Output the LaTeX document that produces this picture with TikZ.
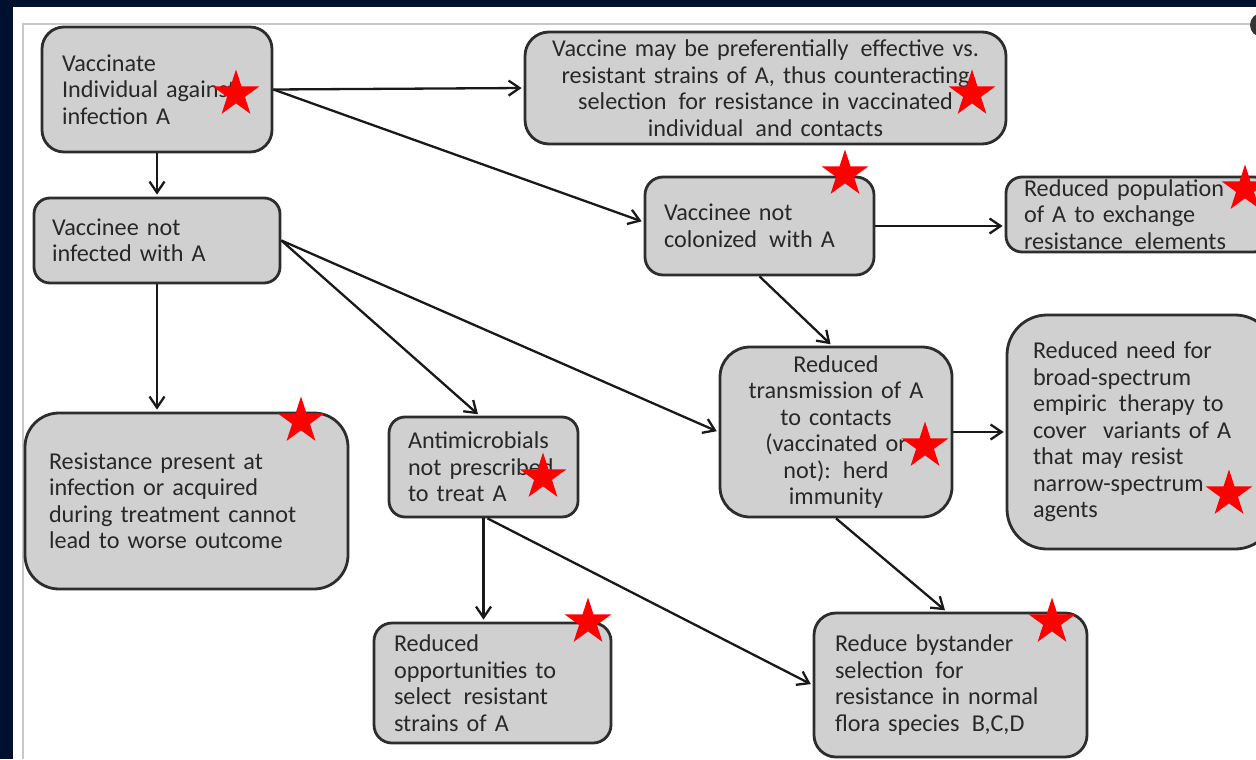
\documentclass[tikz,border=0pt]{standalone}
\usepackage{fontspec}
\setmainfont{Carlito}
\usetikzlibrary{arrows.meta,shapes.geometric}
\definecolor{navy}{RGB}{0,17,48}
\definecolor{boxfill}{RGB}{208,208,208}
\definecolor{boxline}{RGB}{45,45,45}
\definecolor{txt}{RGB}{40,40,40}
\definecolor{framegray}{RGB}{200,200,200}
\tikzset{
  box/.style={draw=boxline, line width=1.4pt, fill=boxfill, text=txt,
    inner ysep=0pt, font=\fontsize{12.1}{13.25}\selectfont},
  lbox/.style={box, align=left},
  cbox/.style={box, align=center},
  conn/.style={draw=black!90, line width=1.15pt, shorten >=1pt,
    -{Straight Barb[length=5.5pt,width=7.5pt,line width=1.15pt]}},
  redstar/.style={star, star points=5, star point ratio=2.618, fill=red, draw=none,
    minimum size=24.5pt, inner sep=0pt}
}
\begin{document}
\begin{tikzpicture}[x=0.5pt,y=-0.5pt]
\useasboundingbox (0,0) rectangle (1256,759);
\fill[navy] (0,0) rectangle (1256,759);
\fill[white] (13,7) rectangle (1256,759);
\draw[framegray, line width=1pt] (23,759) -- (23,24) -- (1256,24);
\fill[black!80] (1262,25) circle (6pt);

% boxes
\node[lbox, minimum width=115pt, minimum height=62.5pt, text width=95pt, inner xsep=10pt, rounded corners=11pt]
  (vacc) at (157,89.5) {Vaccinate\\Individual against\\infection A};
\node[cbox, minimum width=240.5pt, minimum height=56pt, text width=230.5pt, inner xsep=5pt, rounded corners=12pt]
  (eff) at (765.5,88) {Vaccine may be preferentially\, effective vs.\\resistant strains of A, thus counteracting\\selection\, for resistance in vaccinated\\individual\, and contacts};
\node[lbox, minimum width=123pt, minimum height=42.5pt, text width=105pt, inner xsep=9pt, rounded corners=8pt]
  (notinf) at (157,240.5) {Vaccinee not\\infected with A};
\node[lbox, minimum width=114.5pt, minimum height=49pt, text width=95.5pt, inner xsep=9.5pt, rounded corners=9pt]
  (notcol) at (759.5,226) {Vaccinee not\\colonized\, with A};
\node[lbox, minimum width=132pt, minimum height=37.5pt, text width=114pt, inner xsep=9pt, rounded corners=8pt]
  (pop) at (1138,214.5) {Reduced population\\of A to exchange\\resistance\, elements};
\node[cbox, minimum width=116pt, minimum height=85pt, text width=106pt, inner xsep=5pt, rounded corners=15pt]
  (trans) at (836,432) {Reduced\\transmission of A\\to contacts\\(vaccinated or\\not): herd\\immunity};
\node[lbox, minimum width=134pt, minimum height=117pt, text width=108pt, inner xsep=13pt, rounded corners=20pt]
  (need) at (1141,432) {Reduced need for\\broad-spectrum\\empiric\, therapy to\\cover\,\, variants of A\\that may resist\\narrow-spectrum\\agents};
\node[lbox, minimum width=161.5pt, minimum height=88pt, text width=137.5pt, inner xsep=12pt, rounded corners=17pt]
  (outc) at (186.5,501) {Resistance present at\\infection or acquired\\during~treatment~cannot\\lead to worse outcome};
\node[lbox, minimum width=94.5pt, minimum height=50pt, text width=75.5pt, inner xsep=9.5pt, rounded corners=8pt]
  (nopres) at (483.5,467) {Antimicrobials\\not~prescribed\\to treat A};
\node[lbox, minimum width=118.5pt, minimum height=60pt, text width=98.5pt, inner xsep=10pt, rounded corners=9pt]
  (opps) at (492.5,683) {Reduced\\opportunities to\\select\, resistant\\strains of A};
\node[lbox, minimum width=136.5pt, minimum height=72pt, text width=115.5pt, inner xsep=10.5pt, rounded corners=11pt]
  (bys) at (950.5,685) {Reduce bystander\\selection\, for\\resistance in normal\\flora species\, B,C,D};

% connectors
\draw[conn] (vacc.east) -- (eff.west);
\draw[conn] (vacc.east) -- ([yshift=2pt]notcol.west);
\draw[conn] (vacc.south) -- (notinf.north);
\draw[conn] (notinf.south) -- (notinf.south |- outc.north);
\draw[conn] (notinf.east) -- ([xshift=-2pt]nopres.north);
\draw[conn] (notinf.east) -- (trans.west);
\draw[conn] (notcol.east) -- (notcol.east -| pop.west);
\draw[conn] (notcol.south) -- ([xshift=-2pt]trans.north);
\draw[conn] (trans.east) -- (trans.east -| need.west);
\draw[conn] (trans.south) -- ([xshift=-2pt]bys.north);
\draw[conn] (nopres.south) -- (nopres.south |- opps.north);
\draw[conn] ([xshift=2pt]nopres.south) -- (bys.west);

% stars
\node[redstar] (s1) at (236,94) {};
\node[redstar] (s2) at (972,94) {};
\node[redstar] (s3) at (845,174) {};
\node[redstar] (s4) at (1245,189) {};
\node[redstar] (s5) at (301,421) {};
\node[redstar] (s6) at (543,477) {};
\node[redstar] (s7) at (925,446) {};
\node[redstar] (s8) at (1229,494) {};
\node[redstar] (s9) at (588,622) {};
\node[redstar] (s10) at (1052,622) {};
\end{tikzpicture}
\end{document}
